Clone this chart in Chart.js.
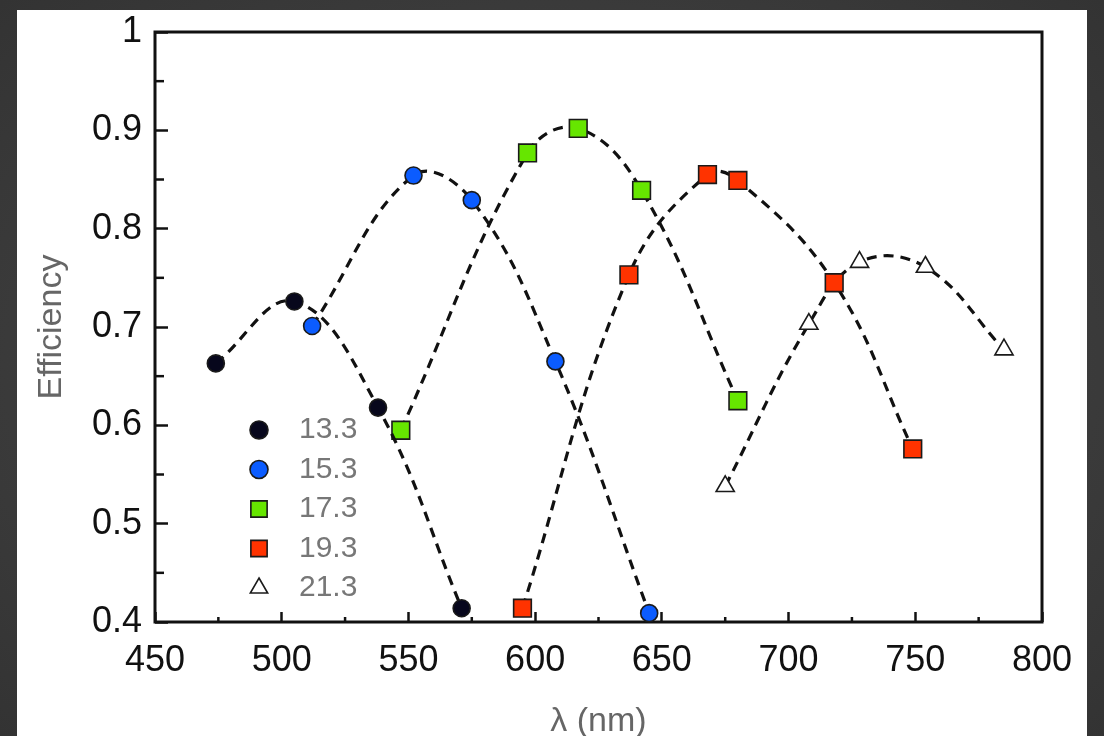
<!DOCTYPE html>
<html>
<head>
<meta charset="utf-8">
<script src="https://cdn.jsdelivr.net/npm/chart.js"></script>
<style>
  html, body { margin:0; padding:0; width:1104px; height:736px; overflow:hidden;
    background: radial-gradient(ellipse at center, #4a4a4a 0%, #3a3a3a 70%, #333 100%); }
  #panel { position:absolute; left:17px; top:10px; width:1070px; height:740px; background:#fff; }
  #wrap { position:absolute; left:0; top:0; width:1104px; height:736px; }
</style>
</head>
<body>
<div id="panel"></div>
<div id="wrap"><canvas id="c" width="1104" height="736"></canvas></div>
<script>
// ---- data ----
const seriesLabels = ['13.3', '15.3', '17.3', '19.3', '21.3'];

const x133 = [474, 505, 538, 571];
const y133 = [0.663, 0.726, 0.618, 0.414];

const x153 = [512, 552, 575, 608, 645];
const y153 = [0.701, 0.854, 0.829, 0.665, 0.409];

const x173 = [547, 597, 617, 642, 680];
const y173 = [0.595, 0.877, 0.902, 0.839, 0.625];

const x193 = [595, 637, 668, 680, 718, 749];
const y193 = [0.414, 0.753, 0.855, 0.849, 0.745, 0.576];

const x213 = [675, 708, 728, 754, 785];
const y213 = [0.538, 0.703, 0.766, 0.761, 0.677];

const xTickLabels = ['450', '500', '550', '600', '650', '700', '750', '800'];
const yTickLabels = ['0.4', '0.5', '0.6', '0.7', '0.8', '0.9', '1'];
const xMinorTicks = [475, 525, 575, 625, 675, 725, 775];
const yMinorTicks = [0.45, 0.55, 0.65, 0.75, 0.85, 0.95];

// ---- styling ----
const FONT = '"Liberation Sans", Arial, Helvetica, sans-serif';
const xsAll = [x133, x153, x173, x193, x213];
const ysAll = [y133, y153, y173, y193, y213];
const markerStyles = [
  { pointStyle: 'circle',   radius: 8.5,  fill: '#07071c' },
  { pointStyle: 'circle',   radius: 8.5,  fill: '#0b5cff' },
  { pointStyle: 'rect',     radius: 12.5, fill: '#66e600' },
  { pointStyle: 'rect',     radius: 12.5, fill: '#ff3300' },
  { pointStyle: 'triangle', radius: 10.5, fill: '#ffffff' }
];

const datasets = seriesLabels.map((lab, i) => ({
  label: lab,
  data: xsAll[i].map((xv, j) => ({ x: xv, y: ysAll[i][j] })),
  showLine: true,
  borderColor: '#111',
  borderWidth: 3.2,
  borderDash: [10, 7],
  tension: 0.4,
  fill: false,
  clip: false,
  pointStyle: markerStyles[i].pointStyle,
  pointRadius: markerStyles[i].radius,
  pointHoverRadius: markerStyles[i].radius,
  pointBackgroundColor: markerStyles[i].fill,
  pointBorderColor: '#1a1a1a',
  pointBorderWidth: 1.6
}));

const frameAndMinor = {
  id: 'frameAndMinor',
  beforeDatasetsDraw(chart) {
    const { ctx, chartArea: a, scales: { x, y } } = chart;
    ctx.save();
    ctx.strokeStyle = '#111';
    ctx.lineWidth = 2.5;
    xMinorTicks.forEach(v => {
      const p = x.getPixelForValue(v);
      ctx.beginPath(); ctx.moveTo(p, a.bottom); ctx.lineTo(p, a.bottom - 5); ctx.stroke();
    });
    yMinorTicks.forEach(v => {
      const p = y.getPixelForValue(v);
      ctx.beginPath(); ctx.moveTo(a.left, p); ctx.lineTo(a.left + 9, p); ctx.stroke();
    });
    ctx.lineWidth = 3;
    ctx.strokeRect(a.left, a.top, a.right - a.left, a.bottom - a.top);
    ctx.restore();
  }
};

const insideLegend = {
  id: 'insideLegend',
  afterDraw(chart) {
    const { ctx, chartArea: a } = chart;
    ctx.save();
    chart.data.datasets.forEach((ds, i) => {
      const cx = a.left + 104;
      const cy = a.bottom - 192 + i * 39.5;
      ctx.fillStyle = ds.pointBackgroundColor;
      ctx.strokeStyle = ds.pointBorderColor;
      ctx.lineWidth = 1.6;
      Chart.helpers.drawPoint(ctx, {
        pointStyle: ds.pointStyle,
        radius: ds.pointStyle === 'rect' ? 11.5 : (ds.pointStyle === 'triangle' ? 10 : 9),
        rotation: 0,
        borderWidth: 1.6
      }, cx, cy);
      ctx.fillStyle = '#777';
      ctx.font = '30px ' + FONT;
      ctx.textBaseline = 'middle';
      ctx.textAlign = 'left';
      ctx.fillText(ds.label, a.left + 144, cy);
    });
    ctx.restore();
  }
};

new Chart(document.getElementById('c'), {
  type: 'line',
  data: { datasets },
  plugins: [frameAndMinor, insideLegend],
  options: {
    responsive: false,
    animation: false,
    devicePixelRatio: 1,
    layout: { autoPadding: false, padding: { top: 32, right: 62, left: 0, bottom: 0 } },
    plugins: { legend: { display: false }, tooltip: { enabled: false } },
    scales: {
      x: {
        type: 'linear', min: 450, max: 800,
        afterFit(s) { s.height = 114; s.paddingLeft = 0; s.paddingRight = 0; },
        border: { display: false },
        grid: { drawOnChartArea: false, drawTicks: true, tickLength: -10, tickWidth: 2.5, color: '#111' },
        ticks: {
          stepSize: 50, autoSkip: false, maxRotation: 0, padding: 27,
          color: '#111', font: { family: FONT, size: 36 },
          callback: (v) => xTickLabels[Math.round((v - 450) / 50)]
        },
        title: {
          display: true, text: 'λ (nm)', color: '#666',
          font: { family: FONT, size: 34 }, padding: { top: 0, bottom: -6 }
        }
      },
      y: {
        type: 'linear', min: 0.4, max: 1,
        afterFit(s) { s.width = 155; s.paddingTop = 0; s.paddingBottom = 0; },
        border: { display: false },
        grid: { drawOnChartArea: false, drawTicks: true, tickLength: -13, tickWidth: 2.5, color: '#111' },
        ticks: {
          stepSize: 0.1, autoSkip: false, padding: 26,
          color: '#111', font: { family: FONT, size: 36 },
          callback: (v) => yTickLabels[Math.round((v - 0.4) / 0.1)]
        },
        title: {
          display: true, text: 'Efficiency', color: '#666',
          font: { family: FONT, size: 34 }, padding: { top: 31, bottom: 0 }
        }
      }
    }
  }
});
</script>
</body>
</html>
